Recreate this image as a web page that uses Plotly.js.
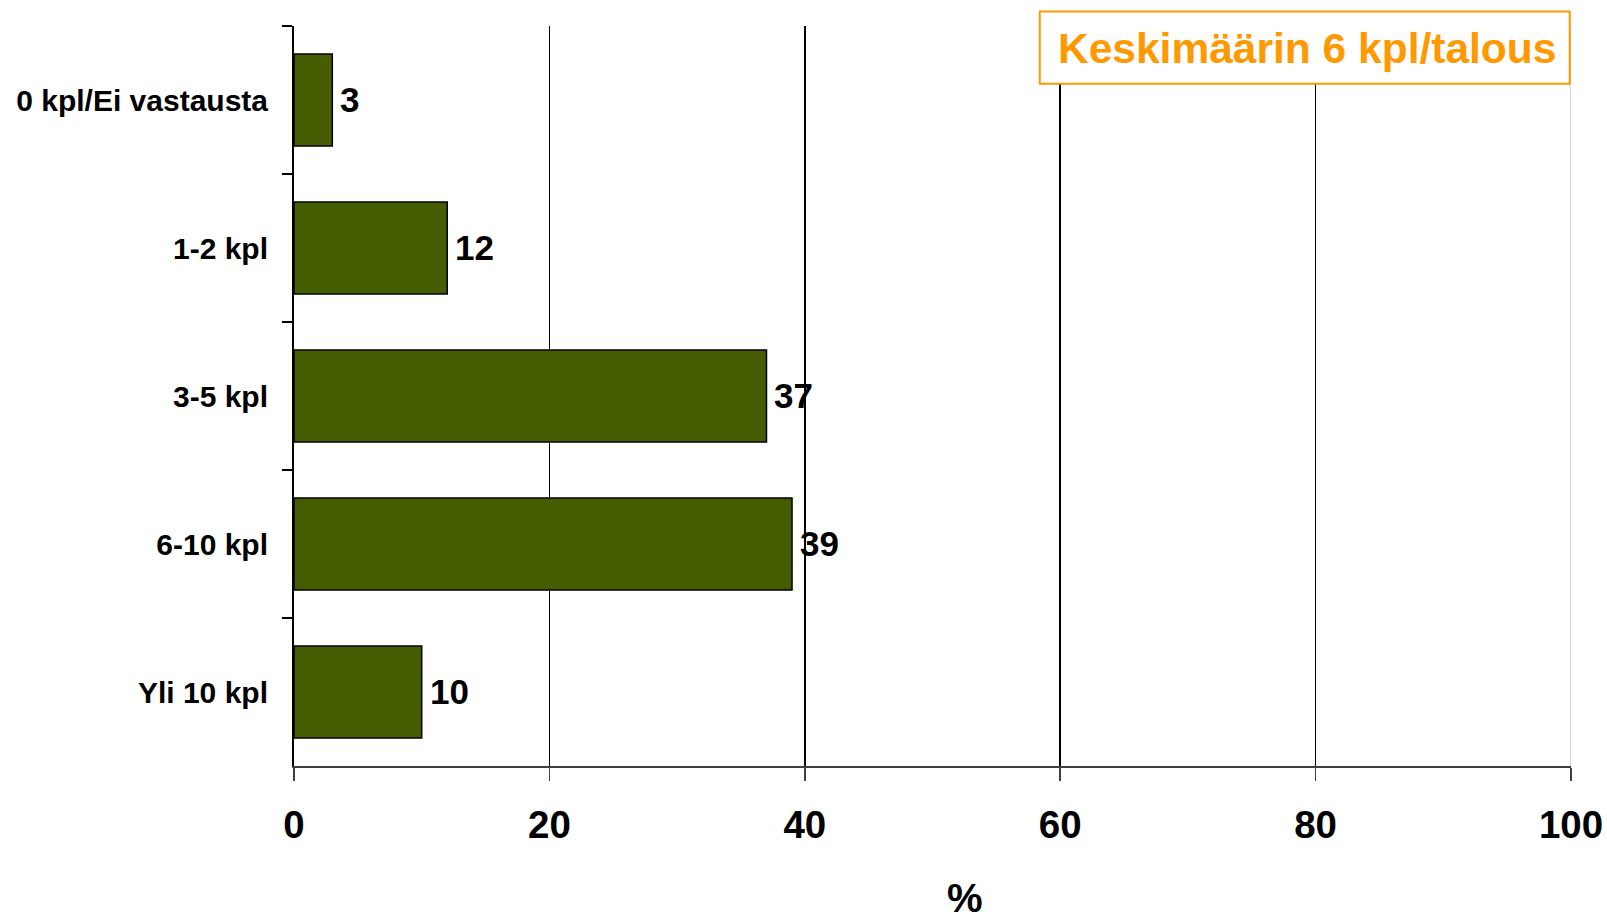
<!DOCTYPE html>
<html>
<head>
<meta charset="utf-8">
<script src="https://cdn.plot.ly/plotly-3.0.1.min.js"></script>
<style>html,body{margin:0;padding:0;background:#fff;}#chart{width:1607px;height:914px;}</style>
</head>
<body>
<div id="chart"></div>
<script>
const categories = ["0 kpl/Ei vastausta", "1-2 kpl", "3-5 kpl", "6-10 kpl", "Yli 10 kpl"];
const values = [3, 12, 37, 39, 10];
const xTicks = [0, 20, 40, 60, 80, 100];
const axisTitle = "%";
const noteText = "Keskimäärin 6 kpl/talous";

const FONT = "Liberation Sans, Arial, sans-serif";

const trace = {
  type: "bar",
  orientation: "h",
  y: categories,
  x: values,
  marker: {color: "#465C00", line: {color: "#000", width: 1.5}},
  hoverinfo: "none"
};

const valueLabels = values.map((v, i) => ({
  xref: "x", yref: "y", x: v, y: categories[i],
  xanchor: "left", yanchor: "middle", xshift: 6, yshift: 1,
  text: String(v), showarrow: false,
  font: {family: FONT, size: 35, color: "#000", weight: "bold"}
}));

const layout = {
  width: 1607, height: 914,
  margin: {l: 294, r: 36, t: 26, b: 148},
  paper_bgcolor: "#fff", plot_bgcolor: "#fff",
  showlegend: false,
  bargap: 0.38,
  font: {family: FONT, color: "#000"},
  xaxis: {
    range: [0, 100],
    tickvals: xTicks,
    ticktext: xTicks.map(String),
    showgrid: true, gridcolor: "#000", gridwidth: 1.5,
    zeroline: false,
    showline: true, linecolor: "#404040", linewidth: 2,
    ticks: "outside", ticklen: 13, tickcolor: "#404040", tickwidth: 1.5,
    ticklabelstandoff: 11,
    tickfont: {family: FONT, size: 38.5, color: "#000", weight: "bold"},
    fixedrange: true
  },
  yaxis: {
    type: "category",
    categoryorder: "array", categoryarray: categories,
    autorange: "reversed",
    tickson: "boundaries",
    ticks: "outside", ticklen: 10, tickcolor: "#000", tickwidth: 1.5,
    showline: true, linecolor: "#000", linewidth: 2,
    showgrid: false, zeroline: false,
    ticklabelstandoff: 18,
    tickfont: {family: FONT, size: 30, color: "#000", weight: "bold"},
    fixedrange: true
  },
  shapes: [
    {type: "line", xref: "x", yref: "paper", x0: 100, x1: 100, y0: 0, y1: 1,
     line: {color: "#c8c8c8", width: 1.5}, layer: "below"},
    {type: "rect", xref: "paper", yref: "paper", x0: 0.584, x1: 0.999, y0: 0.922, y1: 1.0197,
     fillcolor: "#fff", line: {color: "#FF9900", width: 2}, layer: "above"}
  ],
  annotations: valueLabels.concat([
    {xref: "paper", yref: "paper", x: 0.7935, y: 0.969, xanchor: "center", yanchor: "middle",
     text: noteText, showarrow: false,
     font: {family: FONT, size: 42.5, color: "#FF9900", weight: "bold"}},
    {xref: "paper", yref: "paper", x: 0.5255, y: -0.178, xanchor: "center", yanchor: "middle",
     text: axisTitle, showarrow: false,
     font: {family: FONT, size: 40, color: "#000", weight: "bold"}}
  ])
};

Plotly.newPlot("chart", [trace], layout, {displayModeBar: false, staticPlot: true});
</script>
</body>
</html>
